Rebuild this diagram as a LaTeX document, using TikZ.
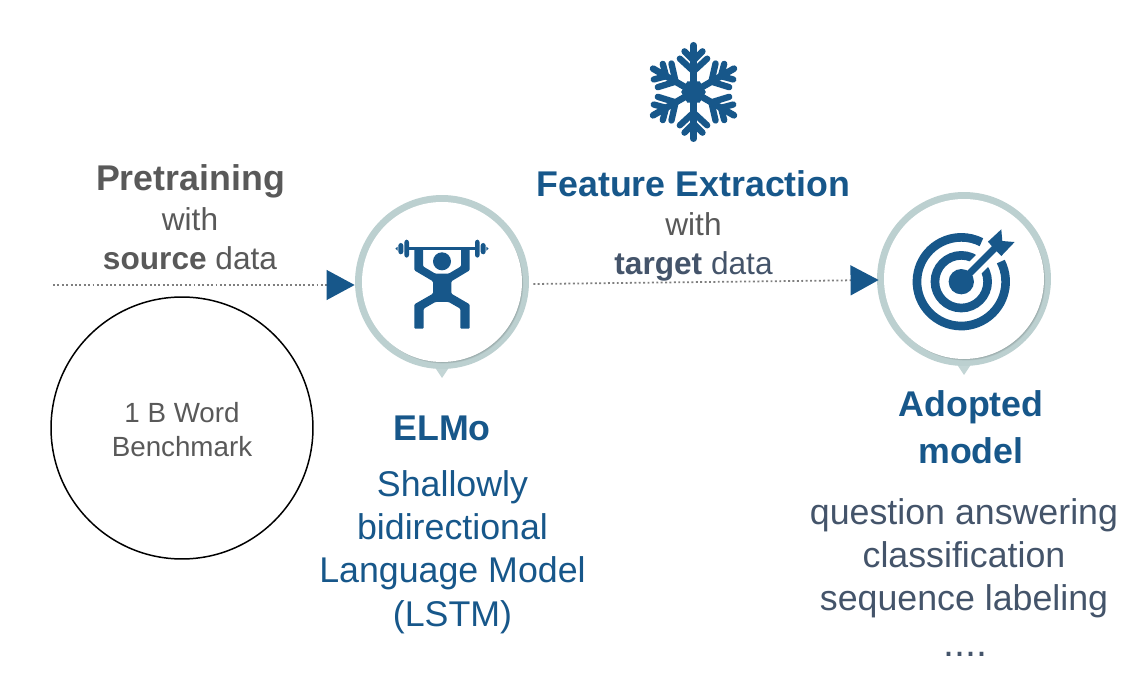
\documentclass[tikz,border=0pt]{standalone}
\usepackage{fontspec}
\setmainfont{Liberation Sans}
\usetikzlibrary{arrows.meta, positioning, calc}
\definecolor{iconblue}{HTML}{17578A}
\definecolor{ringcol}{HTML}{BCD0D0}
\definecolor{greytext}{HTML}{595959}
\definecolor{slatetext}{HTML}{44546A}
\definecolor{dotcol}{HTML}{7F7F7F}
\tikzset{
  bigtext/.style={inner sep=0pt, align=center, font=\fontsize{20.35}{24.5}\selectfont},
  midtext/.style={inner sep=0pt, align=center, font=\fontsize{18}{22}\selectfont},
  ringnode/.style={circle, fill=ringcol, minimum size=3.48cm, inner sep=0pt},
  dotline/.style={dotcol, line width=1pt, dash pattern=on 1.1pt off 1.4pt,
    -{Triangle[length=16pt, width=17pt, color=iconblue, fill=iconblue, sep=0pt]}},
}
\begin{document}
\begin{tikzpicture}[x=0.02cm, y=-0.02cm]
\useasboundingbox (0,0) rectangle (1137,695);
% circles
\fill[ringcol!90!white] (434,366)--(450,366)--(442,378)--cycle;
\fill[ringcol!90!white] (956,363)--(972,363)--(964,375)--cycle;
\node[ringnode] (elmo) at (442,282) {};
\node[ringnode] (adopted) at (964,279) {};
\foreach \c in {elmo, adopted} {
  \foreach \i in {1,...,6}
    \fill[black, opacity=0.04] ($(\c)+(0.3*\i,0.35*\i)$) circle[radius=79.5];
  \fill[white] (\c) circle[radius=80];
}
\node[circle, draw=black, line width=0.85pt, minimum size=5.24cm, inner sep=0pt] (bench) at (182,428) {};
\node[inner sep=0pt, align=center, text=greytext, font=\fontsize{15.8}{19.3}\selectfont] (benchlabel) at (182,430) {1 B Word\\Benchmark};
% connectors
\coordinate (start) at (53,285);
\draw[dotline] (start) -- ($(elmo.west)+(0,3)$);
\draw[dotline] ($(elmo.east)+(4,2)$) -- ($(adopted.west)+(2,1)$);
% lifter
\begin{scope}[shift={(elmo.center)}, x=0.00667cm, y=0.00667cm]
\fill[iconblue, rounded corners=0.6pt] (-83,100)--(-57,100)--(-57,47)--(-20,25)--(20,25)--(57,47)--(57,100)--(83,100)--(83,35)--(28,2)--(28,-35)--(83,-67)--(83,-140)--(55,-140)--(55,-80)--(20,-60)--(-20,-60)--(-55,-80)--(-55,-140)--(-83,-140)--(-83,-67)--(-27,-35)--(-27,2)--(-83,35)--cycle;
\fill[iconblue] (-110,104) rectangle (110,96);
\fill[iconblue] (0,62) circle[radius=27];
\foreach \s in {-1,1} {
  \fill[iconblue, rounded corners=1.5pt] (\s*99,127) rectangle (\s*113,73);
  \fill[iconblue, rounded corners=1.5pt] (\s*116,117) rectangle (\s*131,83);
  \fill[iconblue] (\s*133,106)--(\s*140,100)--(\s*133,94)--cycle;
}
\end{scope}
% target
\begin{scope}[shift={($(adopted.center)+(-2.7,2.7)$)}, x=0.00667cm, y=0.00667cm]
\draw[iconblue, line width=26*0.00667cm] (27:133) arc[start angle=27, end angle=-297, radius=133];
\draw[iconblue, line width=26*0.00667cm] (0,0) circle[radius=79];
\draw[white, line width=50*0.00667cm] (30,30)--(110,110);
\fill[iconblue] (0,0) circle[radius=38];
\draw[iconblue, line width=21*0.00667cm] (0,0)--(100,100);
\fill[iconblue] (80,120)--(120,157)--(123,122)--(160,119)--(120,77)--(100,97)--cycle;
\end{scope}
% snowflake
\begin{scope}[shift={(693.5,92)}, x=0.00667cm, y=0.00667cm]
\fill[iconblue] (0:37)--(60:37)--(120:37)--(180:37)--(240:37)--(300:37)--cycle;
\foreach \a in {30,90,...,330} {
  \draw[iconblue, rotate=\a, line width=20*0.00667cm, line cap=round] (20,0)--(140,0);
  \draw[iconblue, rotate=\a, line width=19*0.00667cm, line cap=round, line join=round] (122,27)--(95,0)--(122,-27);
  \draw[iconblue, rotate=\a, line width=19*0.00667cm, line cap=round, line join=round] (100,41)--(62,0)--(100,-41);
}
\end{scope}
% labels
\node[bigtext, anchor=base, text=greytext] (pretrain) at (190.5,191) {\textbf{Pretraining}};
\node[midtext, anchor=base, text=greytext] (pretrainwith) at (190,231) {with};
\node[midtext, anchor=base, text=greytext] (pretrainsrc) at (190,270) {\textbf{source} data};
\node[bigtext, anchor=base, text=iconblue] (feature) at (693.5,197) {\textbf{Feature Extraction}};
\node[midtext, anchor=base, text=greytext] (featurewith) at (693.5,236) {with};
\node[midtext, anchor=base, text=slatetext] (featuretgt) at (693.5,275) {\textbf{target} data};
\node[bigtext, anchor=base, text=iconblue] (elmotitle) at (442,441) {\textbf{ELMo}};
\node[bigtext, anchor=base, text=iconblue] (elmoa) at (452.5,497) {Shallowly};
\node[bigtext, anchor=base, text=iconblue] (elmob) at (452.5,540) {bidirectional};
\node[bigtext, anchor=base, text=iconblue] (elmoc) at (452.5,583) {Language Model};
\node[bigtext, anchor=base, text=iconblue] (elmod) at (452.5,627) {(LSTM)};
\node[bigtext, anchor=base, text=iconblue] (adopta) at (971,417) {\textbf{Adopted}};
\node[bigtext, anchor=base, text=iconblue] (adoptb) at (971,464) {\textbf{model}};
\node[bigtext, anchor=base, text=slatetext] (taska) at (964,525) {question answering};
\node[bigtext, anchor=base, text=slatetext] (taskb) at (964,568) {classification};
\node[bigtext, anchor=base, text=slatetext] (taskc) at (964,611) {sequence labeling};
\node[bigtext, anchor=base, text=slatetext] (taskd) at (965,657) {\fontsize{22.5}{24.5}\selectfont ....};
\end{tikzpicture}
\end{document}
